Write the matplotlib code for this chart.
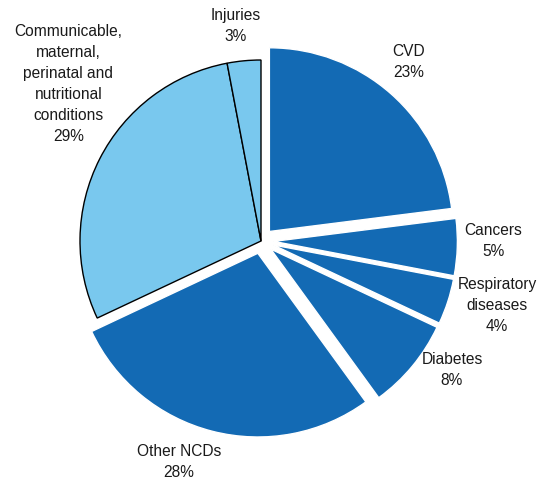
import matplotlib
matplotlib.use("Agg")
import matplotlib.pyplot as plt

labels = ["CVD", "Cancers", "Respiratory\ndiseases", "Diabetes", "Other NCDs",
          "Communicable,\nmaternal,\nperinatal and\nnutritional\nconditions", "Injuries"]
shares = [23, 5, 4, 8, 28, 29, 3]
is_ncd = [True, True, True, True, True, False, False]

dark = "#136ab4"
light = "#79c8ee"

# label centres in units of the pie radius (pie centre at 0, 0)
label_xy = [(0.818, 0.989), (1.285, 0.0), (1.304, -0.354), (1.055, -0.713),
            (-0.453, -1.221), (-1.064, 0.867), (-0.138, 1.188)]

fig = plt.figure(figsize=(5.42, 4.82), dpi=100)
ax = fig.add_axes([0, 0, 1, 1])

r_px = 181
cx, cy = 261, 241

colors = [dark if n else light for n in is_ncd]
explode = [0.07 if n else 0 for n in is_ncd]

wedges, _ = ax.pie(shares, colors=colors, explode=explode, startangle=90,
                   counterclock=False, radius=1, frame=True)
for w, n in zip(wedges, is_ncd):
    if n:
        w.set_radius(1.015)
        w.set_edgecolor("white")
        w.set_linewidth(1)
    else:
        w.set_edgecolor("black")
        w.set_linewidth(1)

ax.set_xlim(-cx / r_px, (542 - cx) / r_px)
ax.set_ylim(-(482 - cy) / r_px, cy / r_px)
ax.set_aspect("auto")
ax.axis("off")

for lab, s, (x, y) in zip(labels, shares, label_xy):
    ax.text(x, y, f"{lab}\n{s}%", ha="center", va="center",
            fontsize=11.2, family="Liberation Sans", color="#1a1a1a", linespacing=1.5)

fig.savefig("out.png", dpi=100)
